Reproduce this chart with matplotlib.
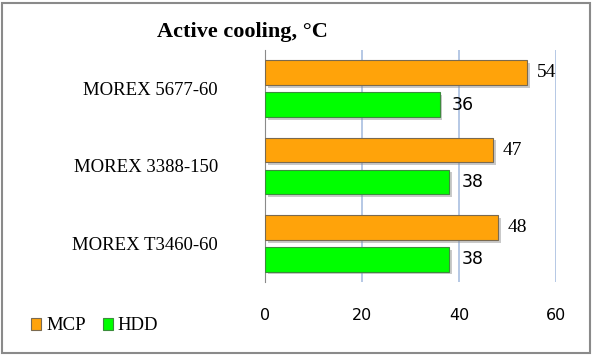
import matplotlib
matplotlib.use("Agg")
import matplotlib.pyplot as plt
import matplotlib.patheffects as pe
from matplotlib.patches import Rectangle
import numpy as np

# chart data
models = ["MOREX 5677-60", "MOREX 3388-150", "MOREX T3460-60"]
mcp = [54, 47, 48]
hdd = [36, 38, 38]
x_ticks = [0, 20, 40, 60]

SERIF = "Liberation Serif"
SANS = "DejaVu Sans"

fig = plt.figure(figsize=(5.93, 3.56), dpi=100)
ax = fig.add_axes([265 / 593, 74 / 356, 291 / 593, 232 / 356])

ypos = np.arange(len(models))
h = 0.32
off = 0.206
shadow = [pe.SimplePatchShadow(offset=(2, -2), shadow_rgbFace="#888888", alpha=0.45), pe.Normal()]

b1 = ax.barh(ypos - off, mcp, height=h, color="#ffa30a", edgecolor="#7a6a50",
             linewidth=0.8, label="MCP", zorder=3)
b2 = ax.barh(ypos + off, hdd, height=h, color="#00ff00", edgecolor="#3c8c3c",
             linewidth=0.8, label="HDD", zorder=3)
for bar in list(b1) + list(b2):
    bar.set_path_effects(shadow)

for y, v in zip(ypos, mcp):
    ax.text(v + 2, y - off, str(v), va="center", ha="left", fontsize=14, family=SERIF)
for y, v in zip(ypos, hdd):
    ax.text(v + 2.5, y + off, str(v), va="center", ha="left", fontsize=12.5, family=SANS)

ax.set_xlim(0, 60)
ax.set_ylim(2.5, -0.5)
ax.set_xticks(x_ticks)
ax.set_xticklabels([str(t) for t in x_ticks], fontsize=11.5, family=SANS)
ax.set_yticks(ypos)
ax.set_yticklabels(models, fontsize=13.5, family=SERIF)
ax.tick_params(axis="x", length=0, pad=19)
ax.tick_params(axis="y", length=0, pad=34)
ax.xaxis.grid(True, color="#a9bfe0", linewidth=1.2, zorder=0)
ax.set_axisbelow(True)
for s in ["top", "right", "bottom"]:
    ax.spines[s].set_visible(False)
ax.spines["left"].set_color("#8a8a8a")

fig.text(242 / 593, 1 - 32 / 356, "Active cooling, °C", ha="center", va="center",
         fontsize=16, fontweight="bold", family=SERIF)

leg = fig.legend(handles=[b1, b2], loc="center left", bbox_to_anchor=(31 / 593, 1 - 326 / 356),
                 ncol=2, frameon=False, prop={"family": SERIF, "size": 13.5},
                 handlelength=0.55, handleheight=0.55, handletextpad=0.25, columnspacing=0.9,
                 borderpad=0, borderaxespad=0)
for p in leg.get_patches():
    p.set_path_effects([])

fig.patches.append(Rectangle((2 / 593, 3 / 356), 588 / 593, 350 / 356, transform=fig.transFigure,
                             fill=False, edgecolor="#8a8a8a", linewidth=1.5))

fig.savefig("out.png", dpi=100)
